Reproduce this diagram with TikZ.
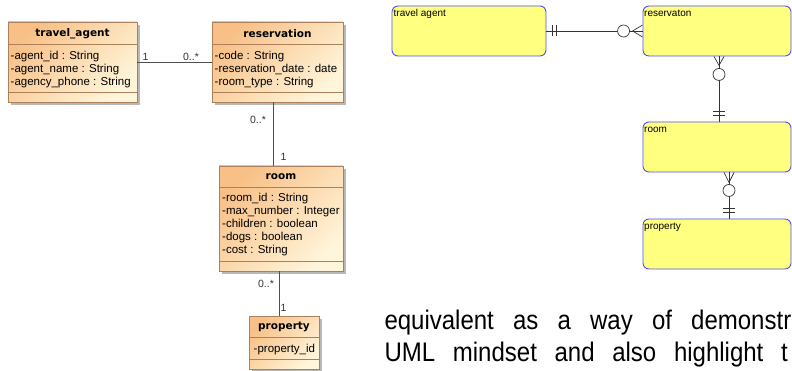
\documentclass[tikz,border=0pt]{standalone}
\usepackage{graphicx}
\usepackage{fontspec}
\setmainfont{Liberation Sans}
\newfontfamily\titlefont{DejaVu Sans}
\usetikzlibrary{shadows,calc}

\definecolor{umlA}{RGB}{248,192,134}
\definecolor{umlB}{RGB}{255,245,218}
\definecolor{umlBorder}{RGB}{172,128,90}
\definecolor{umlLine}{RGB}{80,80,80}
\definecolor{erFill}{RGB}{255,255,128}
\definecolor{erBorder}{RGB}{80,80,240}

\newcommand{\tallword}[1]{\scalebox{1}[1.12]{#1}}

\begin{document}
\begin{tikzpicture}[x=1pt,y=-1pt,
  umlbox/.style={draw=umlBorder, line width=0.8pt, left color=umlA, right color=umlB,
    shading angle=45, inner sep=0pt,
    drop shadow={shadow xshift=3pt,shadow yshift=-3pt,fill=black!28,opacity=1}},
  umlsep/.style={draw=umlBorder, line width=0.7pt},
  umltitle/.style={font=\titlefont\bfseries\fontsize{10.5}{12}\selectfont, inner sep=0pt},
  umlattr/.style={font=\fontsize{11.5}{13}\selectfont, anchor=base west, inner sep=0pt},
  mult/.style={font=\fontsize{10.5}{12}\selectfont, inner sep=0pt, text=black!80},
  umlconn/.style={draw=umlLine, line width=0.8pt},
  erbox/.style={draw=erBorder, fill=erFill, line width=0.9pt, rounded corners=6pt, inner sep=0pt, minimum width=148pt, minimum height=50pt},
  erlabel/.style={font=\fontsize{10}{11}\selectfont, anchor=base west, inner sep=0pt},
  erconn/.style={draw=black!80, line width=0.7pt},
  para/.style={font=\fontsize{24}{28}\selectfont, anchor=base west, inner sep=0pt}]
\useasboundingbox (0,0) rectangle (792,371);
\clip (0,0) rectangle (792,371);

% ---------------- UML part ----------------
\node[umlbox, minimum width=129pt, minimum height=80pt] (ta) at (72.5,62) {};
\node[umlbox, minimum width=131pt, minimum height=80pt] (res) at (277.5,62) {};
\node[umlbox, minimum width=124pt, minimum height=105pt] (room) at (281,218.5) {};
\node[umlbox, minimum width=70pt, minimum height=53pt] (prop) at (284,342.5) {};

\draw[umlsep] ($(ta.north west)+(0,23)$) -- ($(ta.north east)+(0,23)$);
\draw[umlsep] ($(ta.north west)+(0,71)$) -- ($(ta.north east)+(0,71)$);
\draw[umlsep] ($(res.north west)+(0,23)$) -- ($(res.north east)+(0,23)$);
\draw[umlsep] ($(res.north west)+(0,71)$) -- ($(res.north east)+(0,71)$);
\draw[umlsep] ($(room.north west)+(0,22)$) -- ($(room.north east)+(0,22)$);
\draw[umlsep] ($(room.north west)+(0,96)$) -- ($(room.north east)+(0,96)$);
\draw[umlsep] ($(prop.north west)+(0,22)$) -- ($(prop.north east)+(0,22)$);
\draw[umlsep] ($(prop.north west)+(0,44)$) -- ($(prop.north east)+(0,44)$);

\node[umltitle] (tat) at (72.5,33.5) {travel\_agent};
\node[umltitle] (rest) at (277.5,33.5) {reservation};
\node[umltitle] (roomt) at (281,177) {room};
\node[umltitle] (propt) at (284,327) {property};

\node[umlattr] (ta1) at (10.5,60) {-agent\_id : String};
\node[umlattr] (ta2) at (10.5,72.7) {-agent\_name : String};
\node[umlattr] (ta3) at (10.5,85.4) {-agency\_phone : String};
\node[umlattr] (r1) at (214.5,60) {-code : String};
\node[umlattr] (r2) at (214.5,72.7) {-reservation\_date : date};
\node[umlattr] (r3) at (214.5,85.4) {-room\_type : String};
\node[umlattr] (ro1) at (222,202) {-room\_id : String};
\node[umlattr] (ro2) at (222,215) {-max\_number : Integer};
\node[umlattr] (ro3) at (222,228) {-children : boolean};
\node[umlattr] (ro4) at (222,241) {-dogs : boolean};
\node[umlattr] (ro5) at (222,254) {-cost : String};
\node[umlattr] (p1) at (253.5,352) {-property\_id};

\draw[umlconn] (ta.east) -- (res.west);
\draw[umlconn] ($(res.south)+(-4.5,0)$) -- ($(room.north)+(-8,0)$);
\draw[umlconn] ($(room.south)+(-2,0)$) -- ($(prop.north)+(-5,0)$);

\node[mult] (m1) at (145.5,57) {1};
\node[mult] (m2) at (191,57) {0..*};
\node[mult] (m3) at (258,119.5) {0..*};
\node[mult] (m4) at (283.5,157) {1};
\node[mult] (m5) at (266,284) {0..*};
\node[mult] (m6) at (283.5,308) {1};

% ---------------- ER part ----------------
\node[erbox, minimum width=154pt] (eta) at (469,31) {};
\node[erbox] (eres) at (717,31) {};
\node[erbox] (eroom) at (717,147) {};
\node[erbox] (eprop) at (717,244) {};

\node[erlabel] (lta) at (393.5,17) {travel agent};
\node[erlabel] (lres) at (644,17) {reservaton};
\node[erlabel] (lroom) at (644,133) {room};
\node[erlabel] (lprop) at (644,230) {property};

% travel agent -- reservation
\draw[erconn] (eta.east) -- (eres.west);
\draw[erconn] ($(eta.east)+(6,-5.5)$) -- ($(eta.east)+(6,5.5)$);
\draw[erconn] ($(eta.east)+(10,-5.5)$) -- ($(eta.east)+(10,5.5)$);
\draw[erconn, fill=white] ($(eres.west)+(-19,0)$) circle (6pt);
\draw[erconn] ($(eres.west)+(0,-6)$) -- ($(eres.west)+(-10,0)$) -- ($(eres.west)+(0,6)$);

% reservation -- room
\draw[erconn] ($(eres.south)+(2,0)$) -- ($(eroom.north)+(2,0)$);
\draw[erconn] ($(eres.south)+(-3,0)$) -- ($(eres.south)+(2,9)$) -- ($(eres.south)+(7,0)$);
\draw[erconn, fill=white] ($(eres.south)+(2,18)$) circle (6pt);
\draw[erconn] ($(eroom.north)+(-4,-10)$) -- ($(eroom.north)+(8,-10)$);
\draw[erconn] ($(eroom.north)+(-4,-6)$) -- ($(eroom.north)+(8,-6)$);

% room -- property
\draw[erconn] ($(eroom.south)+(12,0)$) -- ($(eprop.north)+(12,0)$);
\draw[erconn] ($(eroom.south)+(7,0)$) -- ($(eroom.south)+(12,10)$) -- ($(eroom.south)+(17,0)$);
\draw[erconn, fill=white] ($(eroom.south)+(12,18)$) circle (6pt);
\draw[erconn] ($(eprop.north)+(6,-10)$) -- ($(eprop.north)+(18,-10)$);
\draw[erconn] ($(eprop.north)+(6,-6)$) -- ($(eprop.north)+(18,-6)$);

% ---------------- paragraph text ----------------
\node[para] (w1) at (384.3,329.5) {\tallword{equivalent}};
\node[para] (w2) at (512.9,329.5) {\tallword{as}};
\node[para] (w3) at (557.4,329.5) {\tallword{a}};
\node[para] (w4) at (589.9,329.5) {\tallword{way}};
\node[para] (w5) at (651.8,329.5) {\tallword{of}};
\node[para] (w6) at (691,329.5) {\tallword{demonstr}};
\node[para] (v1) at (384.3,361) {\tallword{UML}};
\node[para] (v2) at (452.7,361) {\tallword{mindset}};
\node[para] (v3) at (554.4,361) {\tallword{and}};
\node[para] (v4) at (612.1,361) {\tallword{also}};
\node[para] (v5) at (673.8,361) {\tallword{highlight}};
\node[para] (v6) at (780.9,361) {\tallword{t}};
\end{tikzpicture}
\end{document}
